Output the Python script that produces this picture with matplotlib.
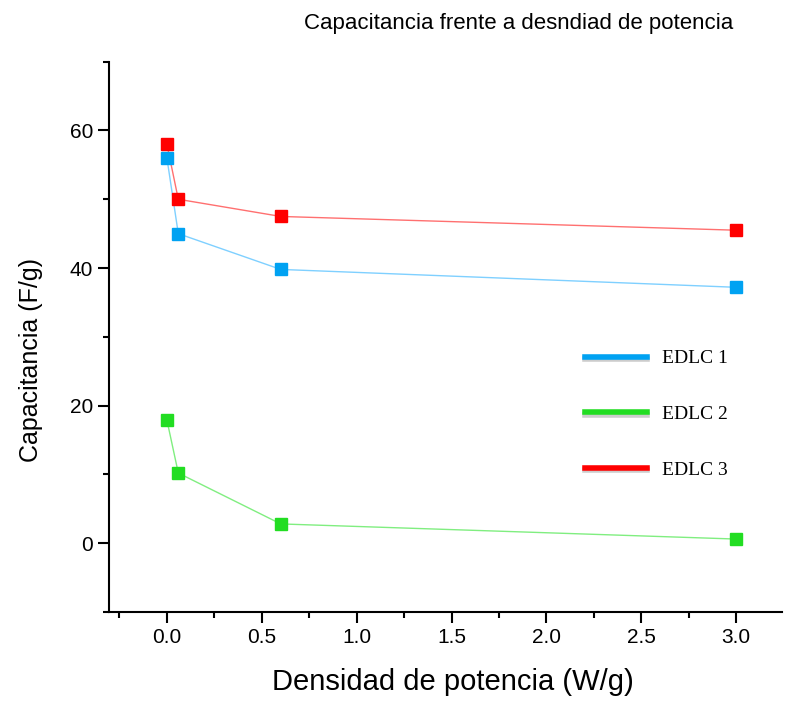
import matplotlib
matplotlib.use('Agg')
from matplotlib import pyplot as plt
from matplotlib.lines import Line2D
from matplotlib.ticker import MultipleLocator
import matplotlib.patheffects as pe

plt.rcParams['font.family'] = ['Liberation Sans', 'DejaVu Sans']

potencia = [0.0, 0.06, 0.6, 3.0]
edlc1 = [56.0, 45.0, 39.8, 37.2]
edlc2 = [17.9, 10.2, 2.8, 0.6]
edlc3 = [58.0, 50.0, 47.5, 45.5]

series = [
    ('EDLC 1', edlc1, '#00a2f2', '#7fd0ff'),
    ('EDLC 2', edlc2, '#22dd22', '#80ee80'),
    ('EDLC 3', edlc3, '#ff0000', '#ff7070'),
]

fig = plt.figure(figsize=(7.86, 7.01), dpi=100)
ax = fig.add_axes([0.1387, 0.127, 0.856, 0.785])

for name, vals, c, lc in series:
    ax.plot(potencia, vals, '-', color=lc, lw=1.0, zorder=2)
    ax.plot(potencia, vals, 's', color=c, ms=9, mec=c, zorder=3)

ax.set_xlim(-0.305, 3.24)
ax.set_ylim(-10, 70)
ax.xaxis.set_major_locator(MultipleLocator(0.5))
ax.xaxis.set_minor_locator(MultipleLocator(0.25))
ax.yaxis.set_major_locator(MultipleLocator(20))
ax.yaxis.set_minor_locator(MultipleLocator(10))
ax.tick_params(which='major', direction='out', length=8, width=1.5, labelsize=15)
ax.tick_params(which='minor', direction='out', length=4, width=1.5)
ax.spines['top'].set_visible(False)
ax.spines['right'].set_visible(False)
ax.spines['left'].set_linewidth(1.5)
ax.spines['bottom'].set_linewidth(1.5)

ax.set_xlabel('Densidad de potencia (W/g)', fontsize=21)
ax.xaxis.set_label_coords(0.511, -0.102)
ax.set_ylabel('Capacitancia (F/g)', fontsize=18)
ax.yaxis.set_label_coords(-0.098, 0.458)
fig.text(0.66, 0.966, 'Capacitancia frente a desndiad de potencia', fontsize=16,
         ha='center', va='center')

shadow = [pe.SimpleLineShadow(offset=(0, -1.5), alpha=0.4, shadow_color='gray'), pe.Normal()]
handles = [Line2D([], [], color=c, lw=4, path_effects=shadow) for _, _, c, _ in series]
leg = ax.legend(handles, [s[0] for s in series], loc='upper left',
                bbox_to_anchor=(0.722, 0.526), bbox_transform=fig.transFigure,
                frameon=False, handlelength=3.2, handletextpad=0.75, labelspacing=1.97,
                prop={'family': 'Liberation Serif', 'size': 14})

fig.savefig('out.png', dpi=100)
